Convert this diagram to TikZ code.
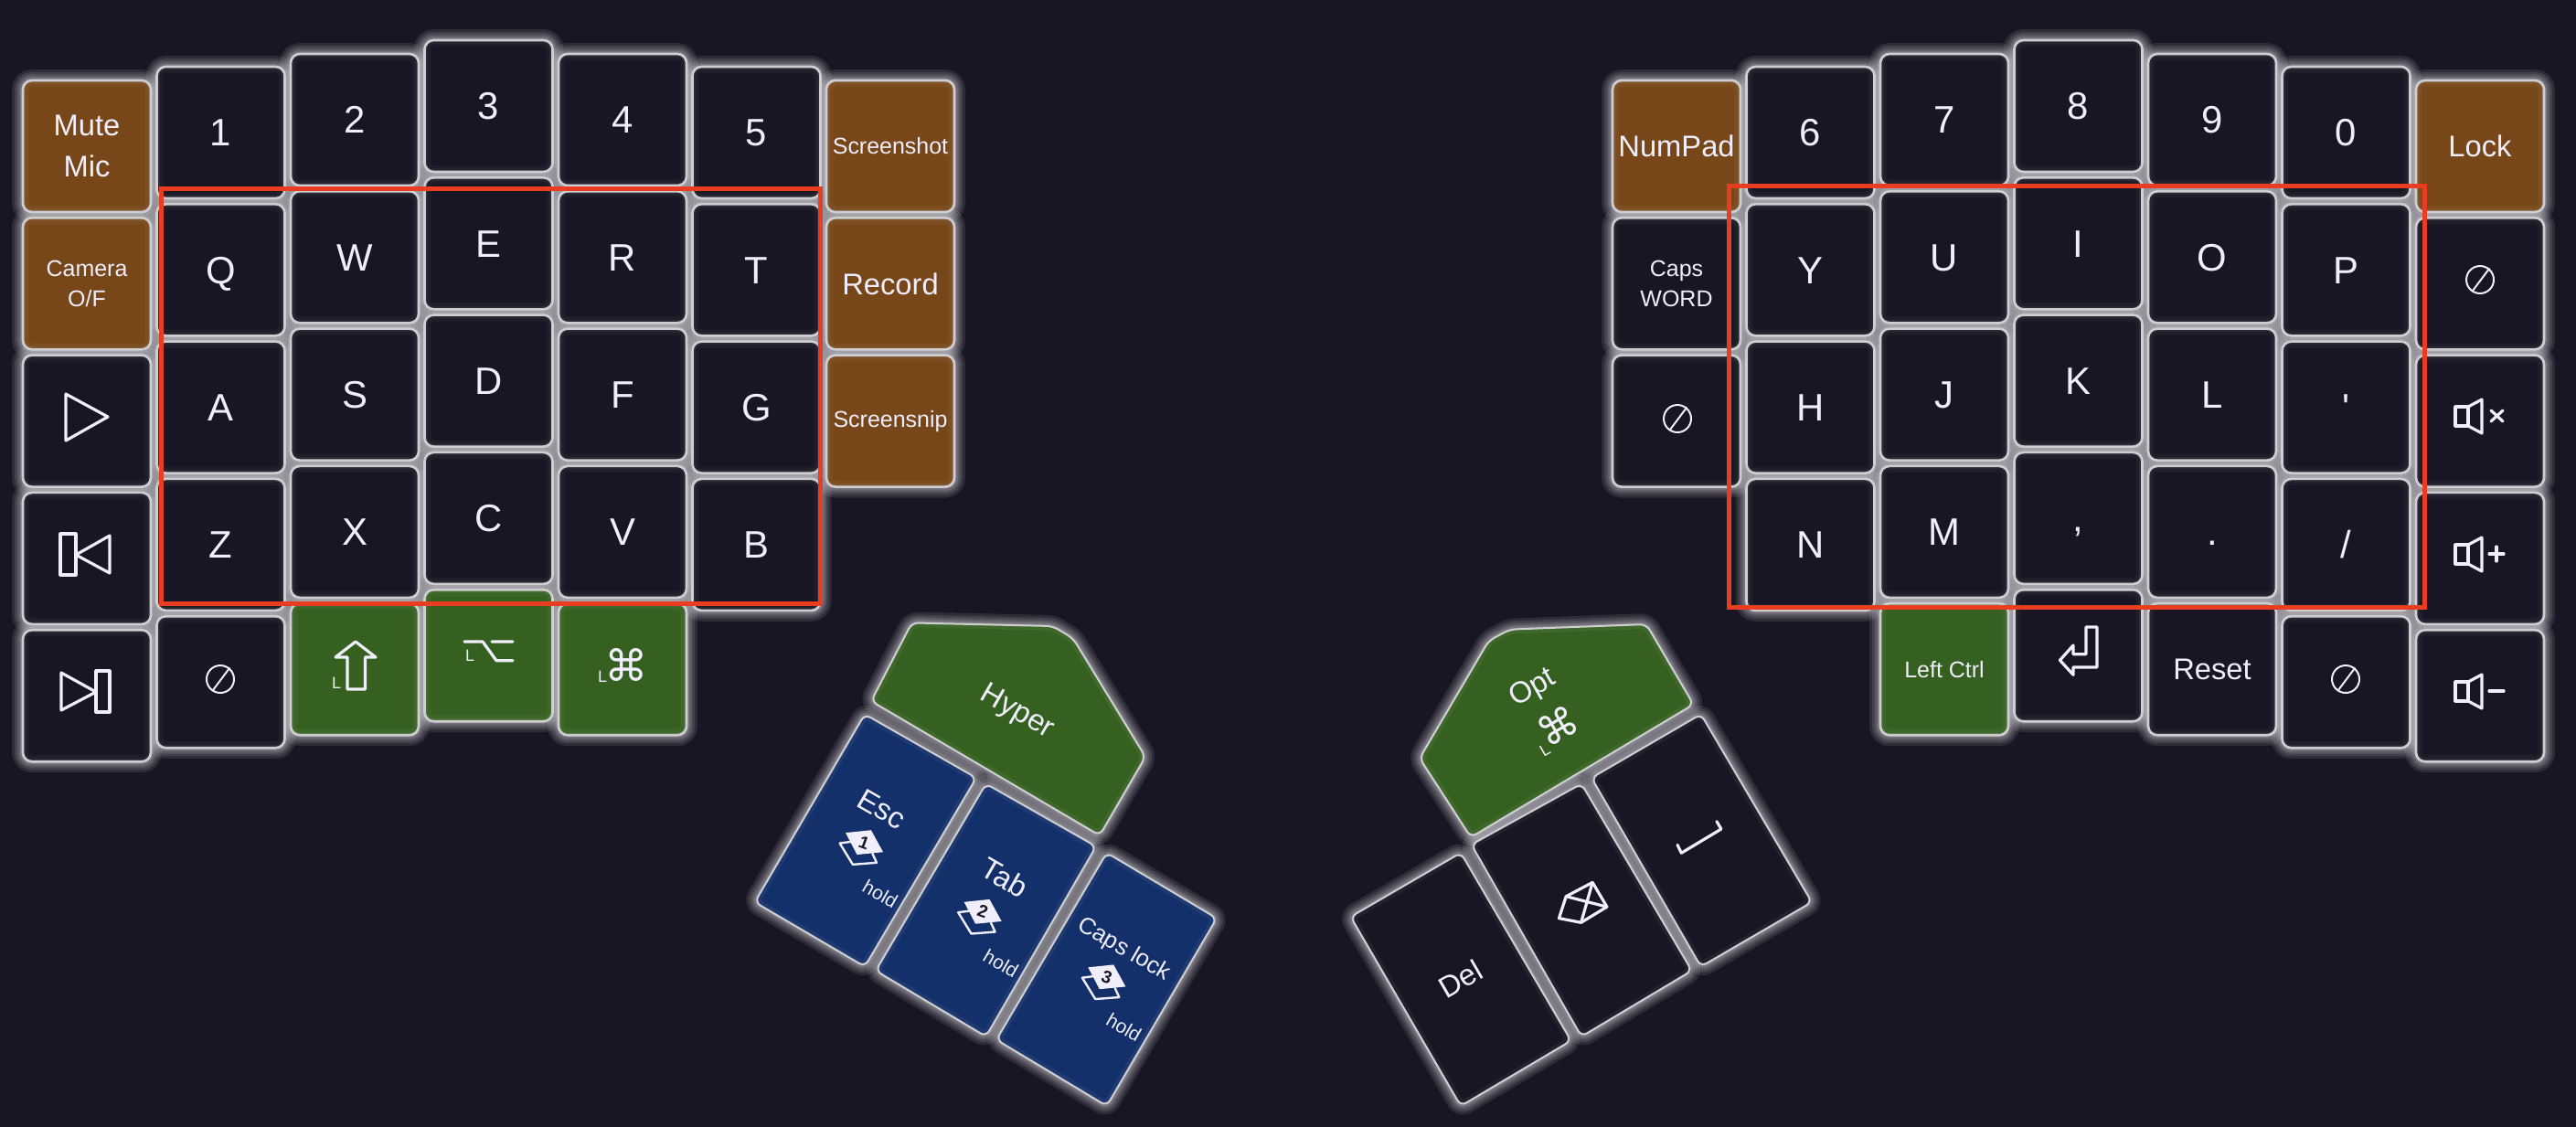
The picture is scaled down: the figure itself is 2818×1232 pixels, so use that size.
\documentclass[tikz,border=0pt]{standalone}
\usepackage{fontspec}
\setmainfont{Liberation Sans}[Ligatures=TeXOff]
\newfontfamily\symfont{DejaVu Sans}
\pgfdeclarelayer{glowlayer}
\pgfsetlayers{glowlayer,main}

\definecolor{boardbg}{HTML}{181524}
\definecolor{keyedge}{HTML}{CFCFD3}
\definecolor{keytext}{HTML}{F0EEFB}
\definecolor{orangekey}{HTML}{784719}
\definecolor{greenkey}{HTML}{356020}
\definecolor{bluekey}{HTML}{14306A}
\definecolor{redbox}{HTML}{E83D20}

\tikzset{
  glowline/.style={draw=white,opacity=0.1,rounded corners=10*\u},
  thumbglow/.style={draw=white,opacity=0.1,rounded corners=7*\u},
  insetline/.style={draw=white,rounded corners=10*\u},
  edgeline/.style={draw=keyedge,line width=2*\u,rounded corners=7*\u},
  key/.style={rectangle,fill=#1,draw=keyedge,line width=2.6*\u,rounded corners=10*\u,
    minimum width=140*\u,minimum height=144*\u,inner sep=0pt,outer sep=0pt,text=keytext,align=center,
    path picture={
      \draw[insetline,opacity=0.035,line width=14*\u] (path picture bounding box.south west) rectangle (path picture bounding box.north east);
      \draw[insetline,opacity=0.05,line width=7*\u] (path picture bounding box.south west) rectangle (path picture bounding box.north east);
    }},
  key/.default=boardbg,
  letter/.style={font=\fontsize{11.9}{14}\selectfont,text height=8.5pt,text depth=0pt},
  midtxt/.style={font=\fontsize{9.3}{12.75}\selectfont},
  smalltxt/.style={font=\fontsize{7.1}{9.2}\selectfont},
  holdtxt/.style={font=\fontsize{6}{7}\selectfont,text=keytext,inner sep=0pt},
  sidetxt/.style={font=\fontsize{5.1}{6}\selectfont,text=keytext,inner sep=0pt},
  thumbtxt/.style={text=keytext,inner sep=0pt},
  icon/.style={draw=keytext,line width=3.2*\u,line join=round,line cap=round},
  thinicon/.style={draw=keytext,line width=2*\u,line cap=round},
  frame/.style={draw=redbox,line width=5*\u},
}

% glow goes under everything, edge and fill on top
\newcommand\thumbkey[2]{%
  \begin{pgfonlayer}{glowlayer}
    \foreach \w in {3,6,9,13,18,24} {\draw[thumbglow,line width=\w*\u] #2;}
  \end{pgfonlayer}
  \fill[#1,rounded corners=7*\u] #2;
  \begin{scope}
    \clip[rounded corners=7*\u] #2;
    \draw[insetline,rounded corners=7*\u,opacity=0.05,line width=10*\u] #2;
  \end{scope}
  \draw[edgeline] #2;
}
\newcommand\nullsign[2]{%
  \draw[thinicon] (#1,#2) circle (15*\u);
  \draw[thinicon] (#1-8,#2+12) -- (#1+10,#2-12);
}
\newcommand\speaker[1]{%
  \draw[icon] (2686,#1-10.5) rectangle (2700,#1+10.5);
  \draw[icon] (2700,#1-10.5) -- (2715,#1-18.5) -- (2715,#1+18.5) -- (2700,#1+10.5);
}
\newcommand\layericon[3]{%
  \begin{scope}[shift={(#1,#2)}]
    \draw[icon,line width=2.4*\u] (-14,-1) -- (-26.8,0.7) -- (-12.5,24) -- (13.6,22) -- (9,12);
    \fill[keytext] (-20.4,-10.7) -- (7.5,-13.6) -- (20.7,10.4) -- (-7.9,13.2) -- cycle;
    \node[font=\bfseries\fontsize{5.4}{6}\selectfont,text=boardbg,inner sep=0pt,rotate=-20] (layer#3) at (0,0) {#3};
  \end{scope}
}

\begin{document}
\begin{tikzpicture}[x=0.01cm,y=-0.01cm]
\def\u{0.01cm}
\useasboundingbox (0,0) rectangle (2818,1232);
\begin{pgfonlayer}{glowlayer}
\fill[boardbg] (-10,-10) rectangle (2828,1242);
\end{pgfonlayer}

% left half
\node[key=orangekey,midtxt] (mute) at (95,160) {Mute\\Mic};
\node[key=orangekey,smalltxt] (cam) at (95,310.3) {Camera\\O/F};
\node[key] (play) at (95,460.6) {};
\node[key] (prev) at (95,610.9) {};
\node[key] (next) at (95,761.2) {};
\node[key] (nullA) at (241.5,746.2) {};
\node[key=greenkey] (shift) at (388,732.2) {};
\node[key=greenkey] (alt) at (534.5,717.2) {};
\node[key=greenkey] (cmd) at (681,732.2) {};
\node[key=orangekey,smalltxt] (shot) at (974,160) {Screenshot};
\node[key=orangekey,midtxt] (record) at (974,310.3) {Record};
\node[key=orangekey,smalltxt] (snip) at (974,460.6) {Screensnip};

% right half
\node[key=orangekey,midtxt] (numpad) at (1834,160) {NumPad};
\node[key,smalltxt] (capsword) at (1834,310.3) {Caps\\WORD};
\node[key] (nullB) at (1834,460.6) {};
\node[key=greenkey,smalltxt] (ctrl) at (2127,732.2) {Left Ctrl};
\node[key] (enter) at (2273.5,717.2) {};
\node[key,midtxt] (reset) at (2420,732.2) {Reset};
\node[key] (nullC) at (2566.5,746.2) {};
\node[key=orangekey,midtxt] (lock) at (2713,160) {Lock};
\node[key] (nullD) at (2713,310.3) {};
\node[key] (volx) at (2713,460.6) {};
\node[key] (volup) at (2713,610.9) {};
\node[key] (voldn) at (2713,761.2) {};

% letter and digit keys
\foreach \nm/\cx/\cy/\txt in {
  k1/241.5/145/1, k2/388/131/2, k3/534.5/116/3, k4/681/131/4, k5/827.5/145/5,
  kq/241.5/295.3/Q, kw/388/281.3/W, ke/534.5/266.3/E, kr/681/281.3/R, kt/827.5/295.3/T,
  ka/241.5/445.6/A, ks/388/431.6/S, kd/534.5/416.6/D, kf/681/431.6/F, kg/827.5/445.6/G,
  kz/241.5/595.9/Z, kx/388/581.9/X, kc/534.5/566.9/C, kv/681/581.9/V, kb/827.5/595.9/B,
  k6/1980.5/145/6, k7/2127/131/7, k8/2273.5/116/8, k9/2420/131/9, k0/2566.5/145/0,
  ky/1980.5/295.3/Y, ku/2127/281.3/U, ki/2273.5/266.3/I, ko/2420/281.3/O, kp/2566.5/295.3/P,
  kh/1980.5/445.6/H, kj/2127/431.6/J, kk/2273.5/416.6/K, kl/2420/431.6/L, kquote/2566.5/445.6/{'},
  kn/1980.5/595.9/N, km/2127/581.9/M, kcomma/2273.5/566.9/{,}, kdot/2420/581.9/{.}, kslash/2566.5/595.9/{/}}
  {\node[key,letter] (\nm) at (\cx,\cy) {\txt};}

\begin{pgfonlayer}{glowlayer}
\foreach \nm in {mute,cam,play,prev,next,nullA,shift,alt,cmd,shot,record,snip,
  numpad,capsword,nullB,ctrl,enter,reset,nullC,lock,nullD,volx,volup,voldn,
  k1,k2,k3,k4,k5,kq,kw,ke,kr,kt,ka,ks,kd,kf,kg,kz,kx,kc,kv,kb,
  k6,k7,k8,k9,k0,ky,ku,ki,ko,kp,kh,kj,kk,kl,kquote,kn,km,kcomma,kdot,kslash}
  \foreach \w in {3,6,9,13,18,24} {\draw[glowline,line width=\w*\u] (\nm.north west) rectangle (\nm.south east);}
\end{pgfonlayer}

% thumb keys, left
\thumbkey{greenkey}{(997.5,681.4) -- (1151.8,685) -- (1174,698.6) -- (1253,828) -- (1203,914) -- (953,767) -- cycle}
\thumbkey{bluekey}{(825.7,987) -- (946,781.4) -- (1068,851) -- (946,1057.5) -- cycle}
\thumbkey{bluekey}{(958,1062) -- (1078.6,857.5) -- (1199,926) -- (1078.6,1134) -- cycle}
\thumbkey{bluekey}{(1090,1137.5) -- (1210.7,933) -- (1331,1004.6) -- (1210.7,1210) -- cycle}
\node[thumbtxt,midtxt,rotate=-30] (hyper) at (1112.5,779.6) {Hyper};
\node[thumbtxt,midtxt,rotate=-30] (esc) at (965,885) {Esc};
\node[thumbtxt,midtxt,rotate=-30] (tab) at (1099,960) {Tab};
\node[thumbtxt,font=\fontsize{7.3}{9}\selectfont,rotate=-30] (capslock) at (1229.6,1039) {Caps lock};
\node[holdtxt,rotate=-30] (holdA) at (963,978) {hold};
\node[holdtxt,rotate=-30] (holdB) at (1095,1054) {hold};
\node[holdtxt,rotate=-30] (holdC) at (1229.6,1124) {hold};
\layericon{945.4}{921.8}{1}
\layericon{1075}{997.5}{2}
\layericon{1210.7}{1069}{3}

% thumb keys, right
\thumbkey{greenkey}{(1801,683) -- (1852.5,770.7) -- (1609,916) -- (1553,829.6) -- (1628.6,701) -- (1651.8,688.6) -- cycle}
\thumbkey{boardbg}{(1741,851) -- (1860.7,781.4) -- (1982,987) -- (1860.7,1057.5) -- cycle}
\thumbkey{boardbg}{(1609.6,924) -- (1730,857.5) -- (1850.7,1062) -- (1730,1134) -- cycle}
\thumbkey{boardbg}{(1477.5,1003) -- (1598,933) -- (1718.6,1138.6) -- (1598,1210) -- cycle}
\node[thumbtxt,midtxt,rotate=30] (opt) at (1676.8,753.6) {Opt};
\node[thumbtxt,font=\symfont\fontsize{12.5}{14}\selectfont,rotate=30] (optcmd) at (1704.6,794) {⌘};
\node[sidetxt,rotate=30] (optL) at (1690,820.7) {L};
\node[thumbtxt,midtxt,rotate=30] (del) at (1597.5,1070.7) {Del};
\draw[icon] (1835,924.3) -- (1839.3,933.2) -- (1882.9,907) -- (1877.9,898.6);
\draw[icon] (1713.2,980.7) -- (1742.1,965.4) -- (1757.9,992.1) -- (1729.6,1009.3) -- (1705.4,1004.6) -- cycle;
\draw[icon] (1713.2,980.7) -- (1757.9,992.1) (1742.1,965.4) -- (1729.6,1009.3);

% key symbols
\draw[icon] (72,431) -- (118,456) -- (72,482) -- cycle;
\draw[icon] (66,584) rectangle (83,629);
\draw[icon] (120,586) -- (83,607) -- (120,627) -- cycle;
\draw[icon] (105,734) rectangle (120,779);
\draw[icon] (67,736) -- (105,757) -- (67,777) -- cycle;
\nullsign{241}{743}
\nullsign{1835}{458}
\nullsign{2566}{743}
\nullsign{2713}{306}
\draw[icon] (389,702) -- (411,719) -- (399.5,719) -- (399.5,754) -- (380,754) -- (380,719) -- (367,719) -- cycle;
\node[sidetxt] (shiftL) at (368,747) {L};
\draw[icon] (508,702) -- (528,702) -- (543,722.7) -- (561,722.7) (538,702) -- (561,702);
\node[sidetxt] (altL) at (514,717) {L};
\node[thumbtxt,font=\symfont\fontsize{13.5}{15}\selectfont] (cmdsym) at (685.5,727) {⌘};
\node[sidetxt] (cmdL) at (659,740) {L};
\draw[icon] (2294,686) -- (2282,686) -- (2282,715.7) -- (2268,715.7) -- (2268,706) -- (2253.4,722.3) -- (2268,738.3) -- (2268,730) -- (2294,730) -- cycle;
\speaker{455.5}
\draw[icon] (2725,449) -- (2738,461) (2738,449) -- (2725,461);
\speaker{606.5}
\draw[icon] (2723,606) -- (2739,606) (2731,598) -- (2731,614);
\speaker{756.5}
\draw[icon] (2723,756) -- (2739,756);

% alpha area marks
\draw[frame] (176,206) rectangle (897,660);
\draw[frame] (1891,203) rectangle (2652,664);
\end{tikzpicture}
\end{document}
